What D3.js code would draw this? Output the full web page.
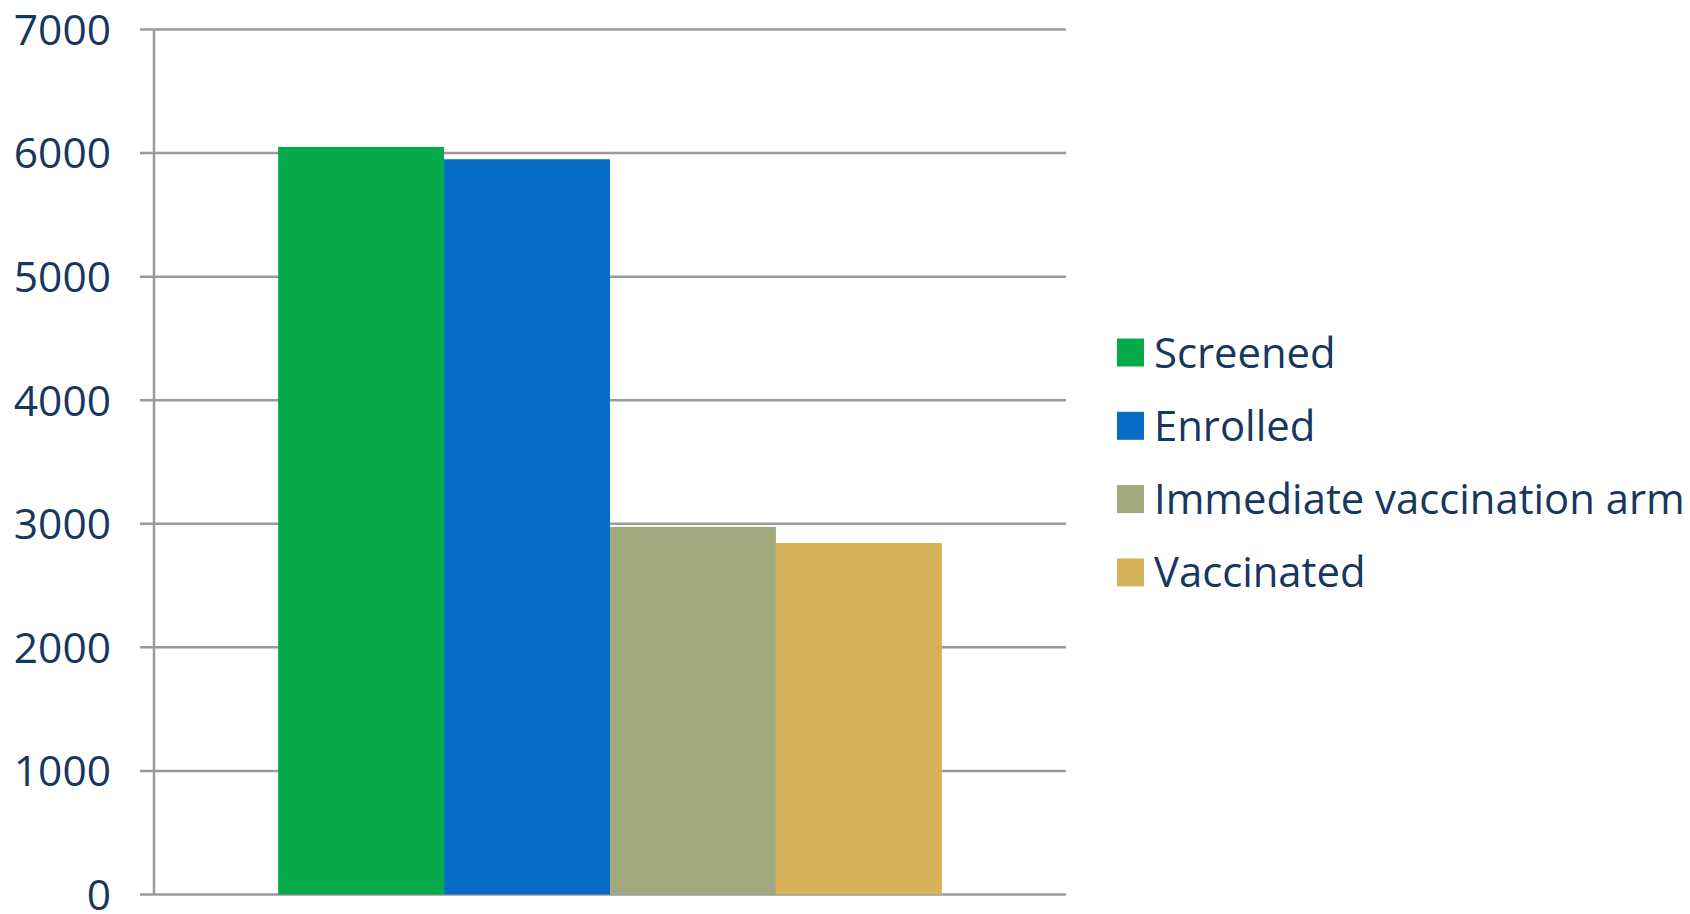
<html>
<head>
  <style>
  body { margin: 0; background: #fff; }
  #chart text {
    fill: #17375e;
    font-family: "Open Sans", sans-serif;
  }
  </style>
  <script src="https://d3js.org/d3.v7.min.js"></script>
</head>
<body>
  <svg id="chart"></svg>
</body>
  <script>

  var categories = ["All"];
  var series = ["Screened", "Enrolled", "Immediate vaccination arm", "Vaccinated"];
  var values = [6050, 5950, 2975, 2845];
  var colors = ["#07aa4a", "#066cc4", "#a3a97f", "#d6b35a"];
  var yTicks = [0, 1000, 2000, 3000, 4000, 5000, 6000, 7000];

  var width = 1690,
      height = 914;

  var plotLeft = 154, plotRight = 1066, plotTop = 29.5, plotBottom = 894.5;

  var chart = d3.select("#chart")
      .attr("width", width)
      .attr("height", height);

  var y = d3.scaleLinear()
      .domain([0, 7000])
      .range([plotBottom, plotTop]);

  // one category, four bars side by side
  var x0 = d3.scaleBand()
      .domain(categories)
      .range([plotLeft, plotRight])
      .paddingOuter(0.187);

  var x1 = d3.scaleBand()
      .domain(series)
      .range([0, x0.bandwidth()]);

  // gridlines + ticks
  chart.append("g")
      .selectAll("line")
      .data(yTicks)
    .enter().append("line")
      .attr("x1", plotLeft - 14)
      .attr("x2", plotRight)
      .attr("y1", function(d) { return y(d); })
      .attr("y2", function(d) { return y(d); })
      .attr("stroke", "#9a9a9a")
      .attr("stroke-width", 2.5);

  chart.append("line")
      .attr("x1", plotLeft).attr("x2", plotLeft)
      .attr("y1", plotTop).attr("y2", plotBottom)
      .attr("stroke", "#9a9a9a")
      .attr("stroke-width", 2.5);

  chart.append("g")
      .selectAll("text")
      .data(yTicks)
    .enter().append("text")
      .attr("x", 111)
      .attr("y", function(d) { return y(d); })
      .attr("dy", "0.36em")
      .attr("text-anchor", "end")
      .style("font-size", "42.5px")
      .text(function(d) { return d; });

  var group = chart.selectAll("g.cat")
      .data(categories)
    .enter().append("g")
      .attr("class", "cat")
      .attr("transform", function(d) { return "translate(" + x0(d) + ",0)"; });

  group.selectAll("rect")
      .data(series.map(function(s, i) { return {name: s, value: values[i], color: colors[i]}; }))
    .enter().append("rect")
      .attr("x", function(d) { return x1(d.name); })
      .attr("y", function(d) { return y(d.value); })
      .attr("width", x1.bandwidth())
      .attr("height", function(d) { return y(0) - y(d.value); })
      .attr("fill", function(d) { return d.color; });

  var legend = chart.append("g")
      .attr("transform", "translate(1117,352.5)");

  var item = legend.selectAll("g")
      .data(series)
    .enter().append("g")
      .attr("transform", function(d, i) { return "translate(0," + (i * 73.3) + ")"; });

  item.append("rect")
      .attr("x", 0)
      .attr("y", -14)
      .attr("width", 27)
      .attr("height", 28)
      .attr("fill", function(d, i) { return colors[i]; });

  item.append("text")
      .attr("x", 37)
      .attr("y", 0)
      .attr("dy", "0.36em")
      .style("font-size", "41.8px")
      .text(function(d) { return d; });

  </script>
</html>
